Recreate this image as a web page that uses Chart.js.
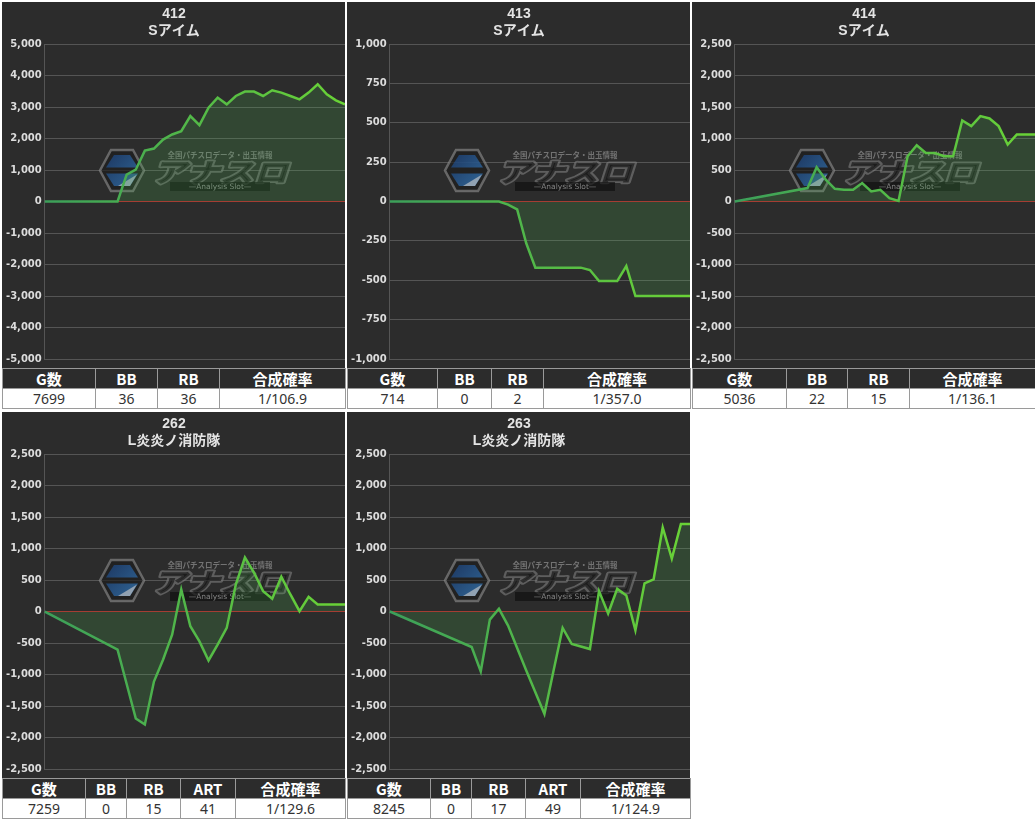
<!DOCTYPE html>
<html lang="ja">
<head>
<meta charset="utf-8">
<title>台データ</title>
<script src="https://cdn.jsdelivr.net/npm/chart.js@4.4.1/dist/chart.umd.min.js"></script>
<style>
  body { margin: 0; background: #fff; font-family: "Noto Sans", "Noto Sans CJK JP", sans-serif; }
  #wrap { display: flex; flex-wrap: wrap; width: 1035px; padding: 2px 0 0 2px; box-sizing: border-box; gap: 3px 2px; }
  .panel { width: 343px; }
  .chartBox { position: relative; height: 366px; background: #2c2c2c; }
  table { width: 100%; border-collapse: collapse; table-layout: fixed; }
  th, td { border: 1px solid #9a9a9a; text-align: center; padding: 0; height: 19px; line-height: 18px; font-size: 14px; }
  th { background: #2c2c2c; color: #fff; font-weight: bold; font-size: 15px; font-family: "Noto Sans CJK JP", sans-serif; }
  td { background: #fff; color: #333; }
</style>
</head>
<body>
<div id="wrap"></div>

<script>
// ====== Data ======
const n = null;
const slots = ["0","1","2","3","4","5","6","7","8","9","10","11","12","13","14","15","16",
  "17","18","19","20","21","22","23","24","25","26","27","28","29","30","31","32","33"];

const machineNo = ["412", "413", "414", "262", "263"];
const machineName = ["Sアイム", "Sアイム", "Sアイム", "L炎炎ノ消防隊", "L炎炎ノ消防隊"];

const val412 = [0, n, n, n, n, n, n, n, 0, 852, 1011, 1617, 1681, 1968, 2128, 2234, 2713, 2426, 2979,
  3300, 3085, 3351, 3490, 3490, 3351, 3532, 3458, 3351, 3245, 3458, 3723, 3404, 3213, 3085];
const val413 = [0, n, n, n, n, n, n, n, 0, 0, 0, 0, 0, -20, -50, -265, -420, -420, -420,
  -420, -420, -420, -435, -505, -505, -505, -410, -600, -600, -600, -600, -600, -600, -600];
const val414 = [0, n, n, n, n, n, n, n, 213, 543, 346, 202, 186, 186, 293, 160, 186, 53, 10,
  718, 894, 771, 771, 718, 718, 1287, 1197, 1356, 1319, 1197, 904, 1064, 1064, 1064];
const val262 = [0, n, n, n, n, n, n, n, -606, -1150, -1697, -1793, -1112, -766, -367, 351, -234, -474, -777,
  -527, -260, 431, 857, 617, 324, 202, 553, 271, 5, 234, 112, 112, 112, 112];
const val263 = [0, n, n, n, n, n, n, n, n, -563, -953, -128, 43, -223, -580, -936, -1282, -1628, -941,
  -261, -516, -555, -596, 324, -32, 362, 255, -298, 447, 511, 1335, 840, 1388, 1388];
const seriesVals = [val412, val413, val414, val262, val263];

// y axis range per machine
const yMax = [5000, 1000, 2500, 2500, 2500];
const yStep = [1000, 250, 500, 500, 500];

// table under each chart
const headS = ["G数", "BB", "RB", "合成確率"];
const headL = ["G数", "BB", "RB", "ART", "合成確率"];
const row412 = ["7699", "36", "36", "1/106.9"];
const row413 = ["714", "0", "2", "1/357.0"];
const row414 = ["5036", "22", "15", "1/136.1"];
const row262 = ["7259", "0", "15", "41", "1/129.6"];
const row263 = ["8245", "0", "17", "49", "1/124.9"];
const tableHeads = [headS, headS, headS, headL, headL];
const tableRows = [row412, row413, row414, row262, row263];

// column widths (px)
const colW = [[93, 62, 62, 126], [90, 54, 52, 147], [94, 61, 62, 126], [83, 41, 54, 55, 110], [83, 41, 54, 55, 110]];

// ====== Watermark ======
const watermark = {
  id: "watermark",
  beforeDatasetsDraw(chart) {
    const c = chart.ctx;
    const hx = 98, hy = 148, hw = 44, hh = 41;
    c.save();
    c.globalAlpha = 0.65;
    // hexagon
    c.beginPath();
    c.moveTo(hx + 11, hy); c.lineTo(hx + hw - 11, hy); c.lineTo(hx + hw, hy + hh / 2);
    c.lineTo(hx + hw - 11, hy + hh); c.lineTo(hx + 11, hy + hh); c.lineTo(hx, hy + hh / 2);
    c.closePath();
    c.fillStyle = "#1b1b1b"; c.fill();
    c.strokeStyle = "#8a8a8a"; c.lineWidth = 2.5; c.stroke();
    const g = c.createLinearGradient(hx, hy, hx + hw, hy + hh);
    g.addColorStop(0, "#163a7a"); g.addColorStop(1, "#3d95e0");
    c.fillStyle = g;
    c.beginPath();
    c.moveTo(hx + 14, hy + 5); c.lineTo(hx + hw - 14, hy + 5); c.lineTo(hx + hw - 6, hy + hh / 2 - 3); c.lineTo(hx + 6, hy + hh / 2 - 3);
    c.closePath(); c.fill();
    c.beginPath();
    c.moveTo(hx + 6, hy + hh / 2 + 3); c.lineTo(hx + hw - 6, hy + hh / 2 + 3); c.lineTo(hx + hw - 14, hy + hh - 5); c.lineTo(hx + 14, hy + hh - 5);
    c.closePath(); c.fill();
    c.fillStyle = "#c8c8c8";
    c.beginPath();
    c.moveTo(hx + hw - 7, hy + hh / 2 + 4); c.lineTo(hx + hw - 14, hy + hh - 5); c.lineTo(hx + 18, hy + hh - 5);
    c.closePath(); c.fill();
    // small header
    c.font = 'bold 7.5px "Noto Sans CJK JP"';
    c.fillStyle = "#999"; c.textAlign = "center"; c.textBaseline = "middle";
    c.fillText("全国パチスロデータ・出玉情報", 218, 153);
    // logo text
    c.save();
    c.translate(150, 180);
    c.scale(1.3, 1);
    c.transform(1, 0, -0.25, 1, 0, 0);
    c.font = '900 26px "Noto Sans CJK JP"';
    c.textAlign = "left"; c.textBaseline = "alphabetic";
    c.lineJoin = "round";
    c.strokeStyle = "#7a7a7a"; c.lineWidth = 3.5; c.strokeText("アナスロ", 0, 0);
    c.fillStyle = "#141414"; c.fillText("アナスロ", 0, 0);
    c.restore();
    // sub box
    c.fillStyle = "#0e0e0e";
    c.fillRect(168, 180, 100, 9);
    c.fillStyle = "#bbb";
    c.font = '7.5px "DejaVu Sans"';
    c.fillText("—Analysis Slot—", 218, 185);
    c.restore();
  }
};

// ====== Line Gradient ======
function lineColor(ctx) {
  const chart = ctx.chart;
  const area = chart.chartArea;
  if (!area) return "#4cbb4c";
  const g = chart.ctx.createLinearGradient(area.left, 0, area.right, 0);
  g.addColorStop(0, "#3c9f5a");
  g.addColorStop(1, "#6ad336");
  return g;
}

// ====== Build Panels ======
function buildPanel(i) {
  const wrap = document.getElementById("wrap");
  const panel = document.createElement("div");
  panel.className = "panel";
  const cols = colW[i].map(w => `<col style="width:${w}px">`).join("");
  panel.innerHTML = `<div class="chartBox"><canvas id="chart${i}"></canvas></div>
    <table><colgroup>${cols}</colgroup>
    <tr>${tableHeads[i].map(h => `<th>${h}</th>`).join("")}</tr>
    <tr>${tableRows[i].map(v => `<td>${v}</td>`).join("")}</tr></table>`;
  wrap.appendChild(panel);

  new Chart(document.getElementById(`chart${i}`), {
    type: "line",
    data: {
      labels: slots,
      datasets: [{
        data: seriesVals[i],
        borderColor: lineColor,
        borderWidth: 2.5,
        pointRadius: 0,
        tension: 0,
        spanGaps: true,
        fill: { value: 0 },
        backgroundColor: "rgba(76,180,80,0.2)"
      }]
    },
    options: {
      responsive: true,
      maintainAspectRatio: false,
      animation: false,
      layout: { padding: { left: 1, right: 0, top: 0, bottom: 8 } },
      plugins: {
        legend: { display: false },
        tooltip: { enabled: false },
        title: {
          display: true,
          text: [machineNo[i], machineName[i]],
          color: "#e4e4e4",
          font: { size: 14, weight: "bold", family: '"Liberation Sans", "Noto Sans CJK JP", sans-serif', lineHeight: 1.18 },
          padding: { top: 4, bottom: 5 }
        }
      },
      scales: {
        x: { display: false },
        y: {
          min: -yMax[i],
          max: yMax[i],
          ticks: { stepSize: yStep[i], color: "#dcdcdc", padding: 3, font: { size: 10, weight: "bold", family: '"DejaVu Sans", sans-serif' } },
          grid: { drawTicks: false, color: c => c.tick && c.tick.value === 0 ? "#b03030" : "#555", lineWidth: 1 },
          border: { color: "#555" }
        }
      }
    },
    plugins: [watermark]
  });
}

machineNo.forEach((_, i) => buildPanel(i));
</script>
</body>
</html>
